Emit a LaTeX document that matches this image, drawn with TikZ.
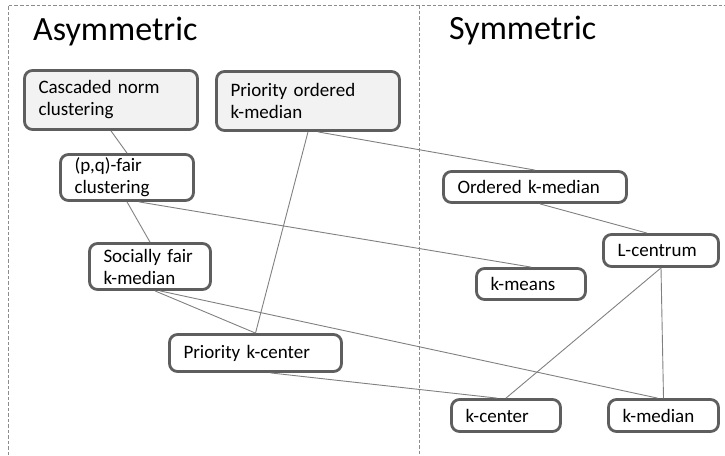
\documentclass[tikz,border=0pt]{standalone}
\usepackage{fontspec}
\setmainfont{Carlito}
\definecolor{boxgray}{HTML}{5E5E5E}
\definecolor{boxfill}{HTML}{F2F2F2}
\definecolor{linegray}{HTML}{808080}
\definecolor{framegray}{HTML}{8C8C8C}
\begin{document}
\begin{tikzpicture}[x=1pt,y=-1pt,
  box/.style={draw=boxgray,line width=2.8pt,rounded corners=8pt,fill=white,align=left,
    inner xsep=14pt,inner ysep=2pt,font=\fontsize{19}{22}\selectfont},
  greybox/.style={box,fill=boxfill},
  link/.style={draw=linegray,line width=0.9pt},
  frame/.style={draw=framegray,line width=0.9pt,dash pattern=on 3.5pt off 2pt},
  title/.style={anchor=base west,inner sep=0pt,font=\fontsize{34}{40}\selectfont}]
\useasboundingbox (0,0) rectangle (725,455);
%ramme
\draw[frame] (8,455)--(8,5)--(725,5);
\draw[frame] (419,5)--(419,455);
\node[title] (asym) at(33,40) {Asymmetric};
\node[title] (sym) at(449,39) {Symmetric};
%asymmetric
\node[greybox,text width=145pt,minimum height=59pt] (casc) at(111,100) {Cascaded norm\\clustering};
\node[greybox,text width=155pt,minimum height=59pt] (prord) at(308,101) {Priority ordered\\k-median};
\node[box,text width=105pt,minimum height=46pt] (pqfair) at(127,177.5) {(p,q)-fair\\clustering};
\node[box,text width=93pt,minimum height=46pt] (socfair) at(150,266.5) {Socially fair\\k-median};
\node[box,text width=144pt,minimum height=37pt] (prkc) at(255.5,353) {Priority k-center};
%symmetric
\node[box,text width=155pt,minimum height=31pt] (ordkm) at(535,187) {Ordered k-median};
\node[box,text width=81pt,minimum height=31pt] (kmeans) at(531,284) {k-means};
\node[box,text width=87pt,minimum height=32pt] (lcent) at(661,250.5) {L-centrum};
\node[box,text width=81pt,minimum height=32pt] (kcent) at(506,415.5) {k-center};
\node[box,text width=82pt,minimum height=32pt] (kmed) at(663.5,415.5) {k-median};
%kanter
\draw[link] (casc.south)--(pqfair.north);
\draw[link] (pqfair.south)--(socfair.north);
\draw[link] ([xshift=12pt]pqfair.south)--(kmeans.north);
\draw[link] (prord.south)--(prkc.north);
\draw[link] ([xshift=10pt]prord.south)--(ordkm.north);
\draw[link] ([xshift=5pt]ordkm.south)--([xshift=-14pt]lcent.north);
\draw[link] ([xshift=5pt]socfair.south)--(prkc.north);
\draw[link] ([xshift=10pt]socfair.south)--([xshift=-6pt]kmed.north);
\draw[link] ([xshift=15pt]prkc.south)--([xshift=-9pt]kcent.north);
\draw[link] (lcent.south)--(kcent.north);
\draw[link] (lcent.south)--(kmed.north);
\end{tikzpicture}
\end{document}
